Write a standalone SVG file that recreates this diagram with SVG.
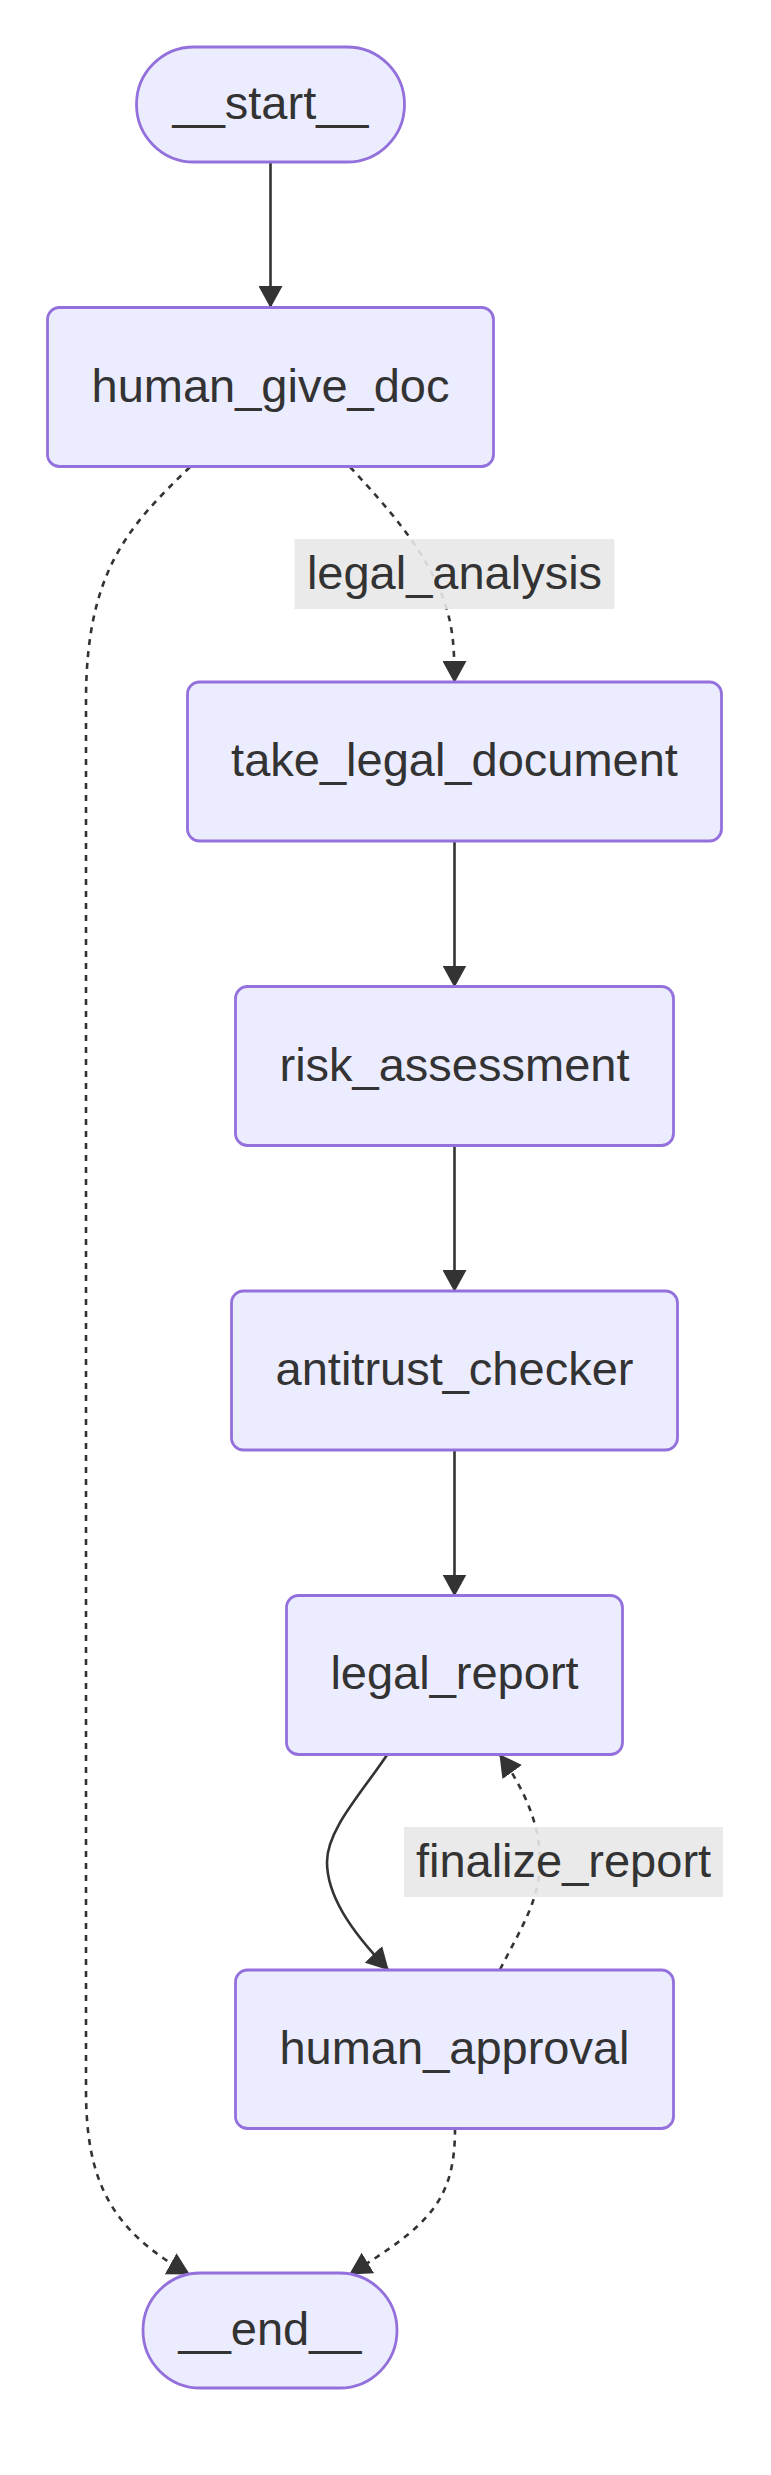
<svg xmlns="http://www.w3.org/2000/svg" width="771" height="2475" viewBox="0 0 771 2475">
<style>
.node{fill:#ECECFF;stroke:#9370DB;stroke-width:2.8}
.lbl{font-family:"Liberation Sans",Arial,sans-serif;font-size:47px;fill:#333;text-anchor:middle}
.edge{fill:none;stroke:#333;stroke-width:2.6}
.dot{stroke-dasharray:6 6}
.ebg{fill:#e8e8e8;fill-opacity:0.9}
</style>
<defs>
<marker id="arr" viewBox="0 0 22 24" refX="21" refY="12" markerWidth="22" markerHeight="24" markerUnits="userSpaceOnUse" orient="auto">
<path d="M0,0 L22,12 L0,24 z" fill="#333"/>
</marker>
</defs>
<rect width="771" height="2475" fill="#fff"/>
<g id="connectors">
<path class="edge" d="M270.5,162 L270.5,307" marker-end="url(#arr)"/>
<path class="edge dot" d="M350,467 C390,510 420,545 440,590 C452,620 454.5,640 454.5,682" marker-end="url(#arr)"/>
<path class="edge dot" d="M190,467 C130,525 86,570 86,700 L86,2090 C86,2180 110,2230 189,2274" marker-end="url(#arr)"/>
<path class="edge" d="M454.5,841 L454.5,986.5" marker-end="url(#arr)"/>
<path class="edge" d="M454.5,1145.5 L454.5,1291" marker-end="url(#arr)"/>
<path class="edge" d="M454.5,1450 L454.5,1595.5" marker-end="url(#arr)"/>
<path class="edge" d="M387,1755 C360,1795 327,1830 327,1862 C327,1895 350,1930 388,1969.5" marker-end="url(#arr)"/>
<path class="edge dot" d="M500,1969.5 C520,1930 540,1900 540,1862 C540,1825 525,1790 500,1755" marker-end="url(#arr)"/>
<path class="edge dot" d="M455,2128.5 C455,2200 430,2225 350,2274" marker-end="url(#arr)"/>
<g id="label-legal_analysis">
<rect class="ebg" x="294.5" y="539" width="320" height="70"/>
<text class="lbl" x="454.5" y="588.5">legal_analysis</text>
</g>
<g id="label-finalize_report">
<rect class="ebg" x="404" y="1827" width="319" height="70"/>
<text class="lbl" x="563.5" y="1876.5">finalize_report</text>
</g>
</g>
<g id="node-start">
<rect class="node" x="136.5" y="47" width="268" height="115" rx="57.5" ry="57.5"/>
<text class="lbl" x="270.5" y="119">__start__</text>
</g>
<g id="node-human_give_doc">
<rect class="node" x="47.5" y="307.5" width="446" height="159" rx="12" ry="12"/>
<text class="lbl" x="270.5" y="402">human_give_doc</text>
</g>
<g id="node-take_legal_document">
<rect class="node" x="187.5" y="682" width="534" height="159" rx="12" ry="12"/>
<text class="lbl" x="454.5" y="776">take_legal_document</text>
</g>
<g id="node-risk_assessment">
<rect class="node" x="235.5" y="986.5" width="438" height="159" rx="12" ry="12"/>
<text class="lbl" x="454.5" y="1080.5">risk_assessment</text>
</g>
<g id="node-antitrust_checker">
<rect class="node" x="231.5" y="1291" width="446" height="159" rx="12" ry="12"/>
<text class="lbl" x="454.5" y="1385">antitrust_checker</text>
</g>
<g id="node-legal_report">
<rect class="node" x="286.5" y="1595.5" width="336" height="159" rx="12" ry="12"/>
<text class="lbl" x="454.5" y="1689">legal_report</text>
</g>
<g id="node-human_approval">
<rect class="node" x="235.5" y="1970" width="438" height="158.5" rx="12" ry="12"/>
<text class="lbl" x="454.5" y="2064">human_approval</text>
</g>
<g id="node-end">
<rect class="node" x="143" y="2273" width="254" height="115" rx="57.5" ry="57.5"/>
<text class="lbl" x="270" y="2345">__end__</text>
</g>
</svg>
